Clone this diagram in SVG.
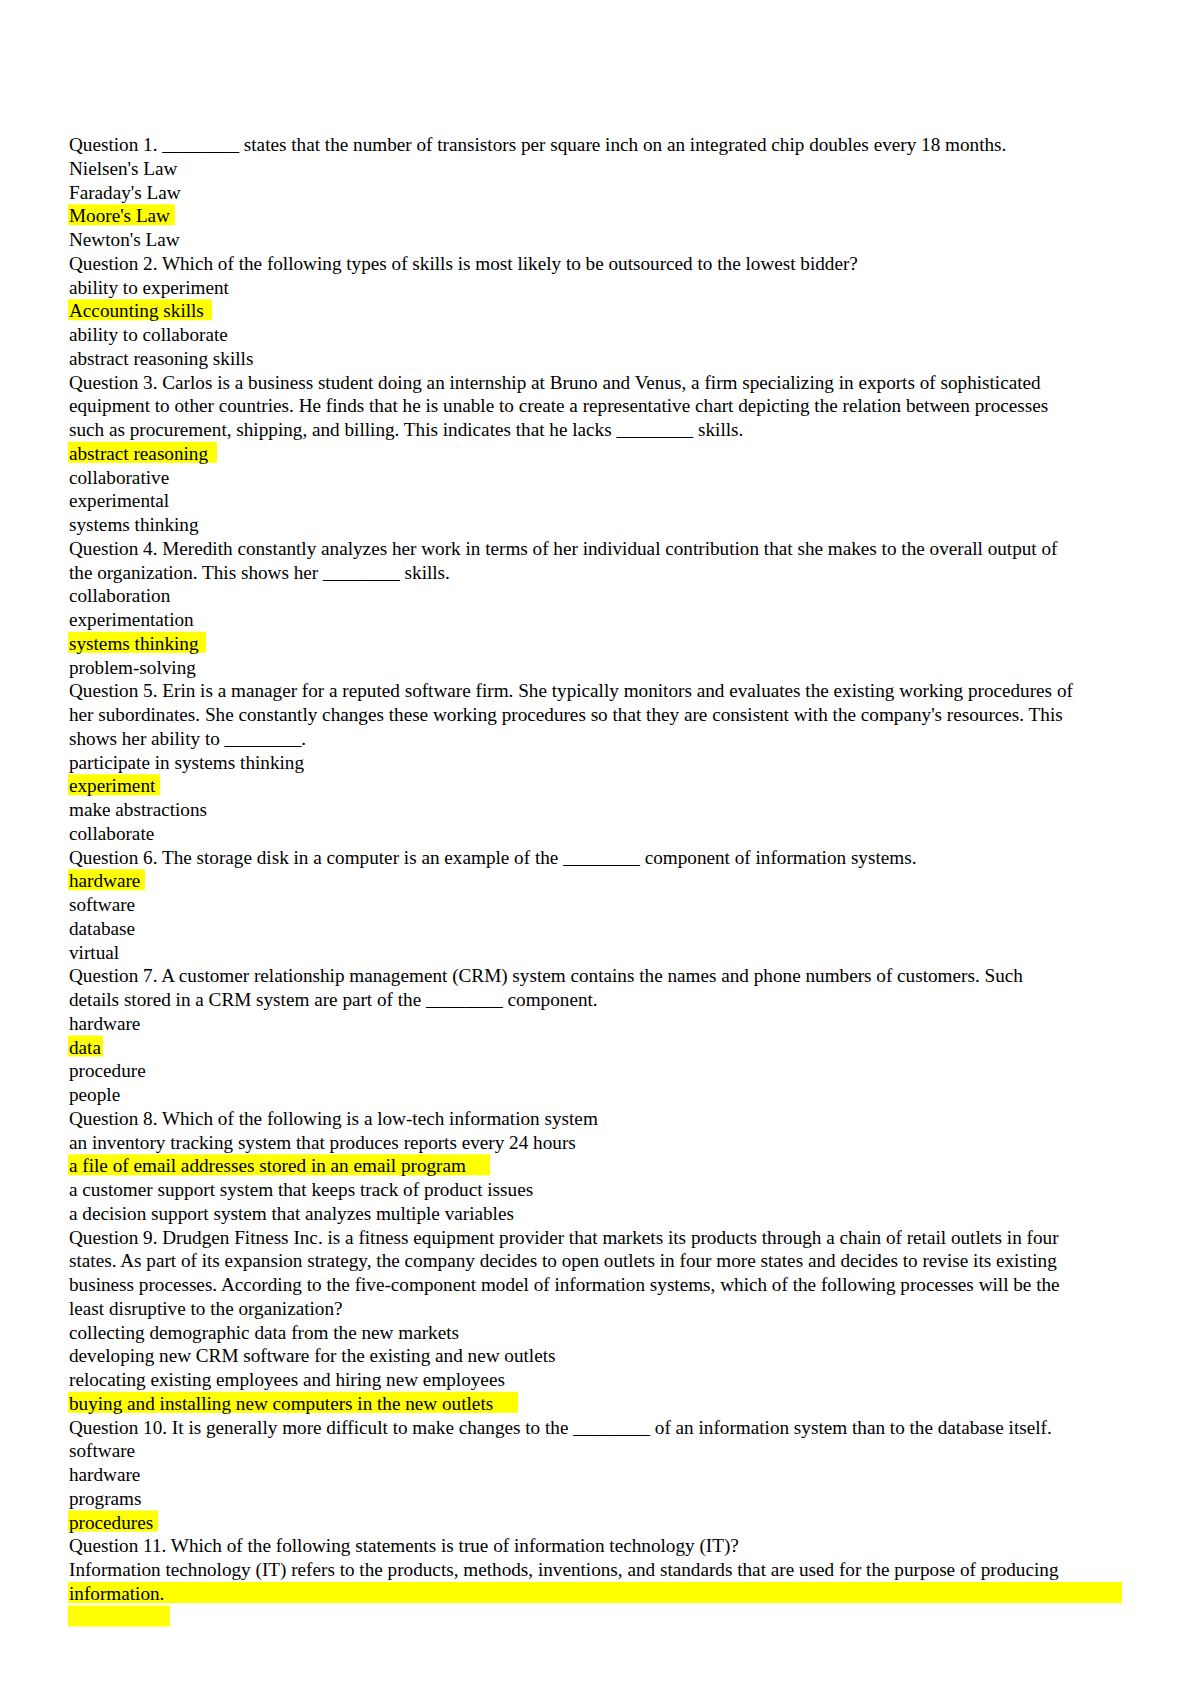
<svg xmlns="http://www.w3.org/2000/svg" width="1191" height="1684" viewBox="0 0 1191 1684">
<style>
text{font-family:"Liberation Serif","Times New Roman",serif;font-size:19.2px;fill:#000}
.h{fill:#ffff00}
</style>
<rect width="1191" height="1684" fill="#fff"/>
<g id="highlights">
<rect class="h" x="68" y="204.3" width="107" height="21"/>
<rect class="h" x="68" y="299.3" width="144" height="21"/>
<rect class="h" x="68" y="441.8" width="149" height="21"/>
<rect class="h" x="68" y="631.8" width="138" height="21"/>
<rect class="h" x="68" y="774.3" width="92" height="21"/>
<rect class="h" x="68" y="869.3" width="77" height="21"/>
<rect class="h" x="68" y="1035.5" width="35" height="21"/>
<rect class="h" x="68" y="1154.3" width="422" height="21"/>
<rect class="h" x="68" y="1391.8" width="450" height="21"/>
<rect class="h" x="68" y="1510.5" width="90" height="21"/>
<rect class="h" x="68" y="1582" width="1054" height="21"/>
<rect class="h" x="68" y="1605.5" width="102" height="21"/>
</g>
<g id="text">
<text x="69" y="151">Question 1. ________ states that the number of transistors per square inch on an integrated chip doubles every 18 months.</text>
<text x="69" y="174.75">Nielsen's Law</text>
<text x="69" y="198.5">Faraday's Law</text>
<text x="69" y="222.25">Moore's Law</text>
<text x="69" y="246">Newton's Law</text>
<text x="69" y="269.75">Question 2. Which of the following types of skills is most likely to be outsourced to the lowest bidder?</text>
<text x="69" y="293.5">ability to experiment</text>
<text x="69" y="317.25">Accounting skills</text>
<text x="69" y="341">ability to collaborate</text>
<text x="69" y="364.75">abstract reasoning skills</text>
<text x="69" y="388.5">Question 3. Carlos is a business student doing an internship at Bruno and Venus, a firm specializing in exports of sophisticated</text>
<text x="69" y="412.25">equipment to other countries. He finds that he is unable to create a representative chart depicting the relation between processes</text>
<text x="69" y="436">such as procurement, shipping, and billing. This indicates that he lacks ________ skills.</text>
<text x="69" y="459.75">abstract reasoning</text>
<text x="69" y="483.5">collaborative</text>
<text x="69" y="507.25">experimental</text>
<text x="69" y="531">systems thinking</text>
<text x="69" y="554.75">Question 4. Meredith constantly analyzes her work in terms of her individual contribution that she makes to the overall output of</text>
<text x="69" y="578.5">the organization. This shows her ________ skills.</text>
<text x="69" y="602.25">collaboration</text>
<text x="69" y="626">experimentation</text>
<text x="69" y="649.75">systems thinking</text>
<text x="69" y="673.5">problem-solving</text>
<text x="69" y="697.25">Question 5. Erin is a manager for a reputed software firm. She typically monitors and evaluates the existing working procedures of</text>
<text x="69" y="721">her subordinates. She constantly changes these working procedures so that they are consistent with the company's resources. This</text>
<text x="69" y="744.75">shows her ability to ________.</text>
<text x="69" y="768.5">participate in systems thinking</text>
<text x="69" y="792.25">experiment</text>
<text x="69" y="816">make abstractions</text>
<text x="69" y="839.75">collaborate</text>
<text x="69" y="863.5">Question 6. The storage disk in a computer is an example of the ________ component of information systems.</text>
<text x="69" y="887.25">hardware</text>
<text x="69" y="911">software</text>
<text x="69" y="934.75">database</text>
<text x="69" y="958.5">virtual</text>
<text x="69" y="982.25">Question 7. A customer relationship management (CRM) system contains the names and phone numbers of customers. Such</text>
<text x="69" y="1006">details stored in a CRM system are part of the ________ component.</text>
<text x="69" y="1029.75">hardware</text>
<text x="69" y="1053.5">data</text>
<text x="69" y="1077.25">procedure</text>
<text x="69" y="1101">people</text>
<text x="69" y="1124.75">Question 8. Which of the following is a low-tech information system</text>
<text x="69" y="1148.5">an inventory tracking system that produces reports every 24 hours</text>
<text x="69" y="1172.25">a file of email addresses stored in an email program</text>
<text x="69" y="1196">a customer support system that keeps track of product issues</text>
<text x="69" y="1219.75">a decision support system that analyzes multiple variables</text>
<text x="69" y="1243.5">Question 9. Drudgen Fitness Inc. is a fitness equipment provider that markets its products through a chain of retail outlets in four</text>
<text x="69" y="1267.25">states. As part of its expansion strategy, the company decides to open outlets in four more states and decides to revise its existing</text>
<text x="69" y="1291">business processes. According to the five-component model of information systems, which of the following processes will be the</text>
<text x="69" y="1314.75">least disruptive to the organization?</text>
<text x="69" y="1338.5">collecting demographic data from the new markets</text>
<text x="69" y="1362.25">developing new CRM software for the existing and new outlets</text>
<text x="69" y="1386">relocating existing employees and hiring new employees</text>
<text x="69" y="1409.75">buying and installing new computers in the new outlets</text>
<text x="69" y="1433.5">Question 10. It is generally more difficult to make changes to the ________ of an information system than to the database itself.</text>
<text x="69" y="1457.25">software</text>
<text x="69" y="1481">hardware</text>
<text x="69" y="1504.75">programs</text>
<text x="69" y="1528.5">procedures</text>
<text x="69" y="1552.25">Question 11. Which of the following statements is true of information technology (IT)?</text>
<text x="69" y="1576">Information technology (IT) refers to the products, methods, inventions, and standards that are used for the purpose of producing</text>
<text x="69" y="1599.75">information.</text>
</g>
</svg>
